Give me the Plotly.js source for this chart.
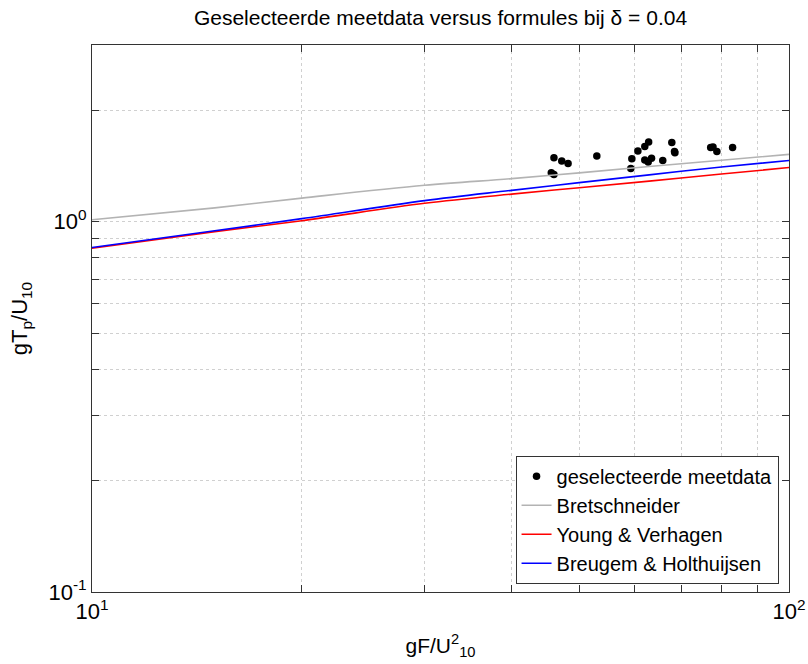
<!DOCTYPE html>
<html>
<head>
<meta charset="utf-8">
<script src="https://cdn.plot.ly/plotly-3.0.1.min.js"></script>
<style>html,body{margin:0;padding:0;background:#fff;}#chart{width:808px;height:664px;}</style>
</head>
<body>
<div id="chart"></div>
<script>
// measured data (gF/U10^2 , gTp/U10)
const measX = [46.0, 45.6, 46.0, 47.2, 48.2, 53.0, 59.5, 59.3, 60.7, 62.1, 62.9, 62.1, 62.8, 63.5, 65.9, 67.9, 68.5, 68.6, 77.2, 77.8, 78.8, 83.0];
const measY = [1.489, 1.356, 1.342, 1.458, 1.435, 1.504, 1.480, 1.391, 1.551, 1.595, 1.641, 1.467, 1.449, 1.483, 1.462, 1.635, 1.546, 1.536, 1.585, 1.590, 1.546, 1.585];

// formula curves
const curveX = [10, 15, 20, 30, 40, 50, 63, 80, 100];
const bretschneiderY = [1.012, 1.09, 1.158, 1.254, 1.307, 1.355, 1.41, 1.465, 1.52];
const youngVerhagenY = [0.848, 0.94, 1.006, 1.121, 1.187, 1.235, 1.287, 1.345, 1.40];
const breugemHolthuijsenY = [0.852, 0.945, 1.019, 1.140, 1.215, 1.275, 1.338, 1.405, 1.463];

const xMajor = [10, 100];
const xMajorText = ['10<sup>1</sup>', '10<sup>2</sup>'];
const xMinor = [20, 30, 40, 50, 60, 70, 80, 90];
const yMajor = [0.1, 1];
const yMajorText = ['10<sup>-1</sup>', '10<sup>0</sup>'];
const yMinor = [0.2, 0.3, 0.4, 0.5, 0.6, 0.7, 0.8, 0.9, 2, 3];

const FONT = '"Liberation Sans", Arial, Helvetica, sans-serif';

const traces = [
  {x: measX, y: measY, mode: 'markers', type: 'scatter', name: 'geselecteerde meetdata',
   marker: {color: '#000', size: 7.5}},
  {x: curveX, y: bretschneiderY, mode: 'lines', type: 'scatter', name: 'Bretschneider',
   line: {color: '#b3b3b3', width: 1.6, shape: 'spline'}},
  {x: curveX, y: youngVerhagenY, mode: 'lines', type: 'scatter', name: 'Young & Verhagen',
   line: {color: '#ff0000', width: 1.6, shape: 'spline'}},
  {x: curveX, y: breugemHolthuijsenY, mode: 'lines', type: 'scatter', name: 'Breugem & Holthuijsen',
   line: {color: '#0000ff', width: 1.6, shape: 'spline'}}
];

const axisCommon = {
  showline: true, mirror: 'ticks', linecolor: '#333', linewidth: 1,
  ticks: 'inside', ticklen: 7, tickcolor: '#333', tickwidth: 1,
  showgrid: true, gridcolor: '#d0d0d0', griddash: 'dot', gridwidth: 1,
  zeroline: false, tickmode: 'array',
  tickfont: {family: FONT, size: 22, color: '#000'}
};

const layout = {
  width: 808, height: 664,
  margin: {l: 92, r: 19, t: 45, b: 72},
  paper_bgcolor: '#fff', plot_bgcolor: '#fff',
  font: {family: FONT, color: '#000'},
  title: {text: 'Geselecteerde meetdata versus formules bij δ = 0.04',
          font: {family: FONT, size: 21, color: '#000'},
          x: 0.5, xref: 'paper', y: 0.973, yref: 'container', yanchor: 'middle'},
  xaxis: Object.assign({}, axisCommon, {
    type: 'log', range: [1, 2],
    tickvals: xMajor, ticktext: xMajorText,
    minor: {tickvals: xMinor, ticks: 'inside', ticklen: 7, tickcolor: '#333',
            showgrid: true, gridcolor: '#d0d0d0', griddash: 'dot', gridwidth: 1},
    title: {text: 'gF/U<sup>2</sup><sub>10</sub>', font: {family: FONT, size: 21, color: '#000'}, standoff: 14}
  }),
  yaxis: Object.assign({}, axisCommon, {
    type: 'log', range: [-1, Math.log10(3)],
    tickvals: yMajor, ticktext: yMajorText,
    minor: {tickvals: yMinor, ticks: 'inside', ticklen: 7, tickcolor: '#333',
            showgrid: true, gridcolor: '#d0d0d0', griddash: 'dot', gridwidth: 1},
    title: {text: 'gT<sub>p</sub>/U<sub>10</sub>', font: {family: FONT, size: 22, color: '#000'}, standoff: 14}
  }),
  legend: {x: 0.985, xanchor: 'right', y: 0.015, yanchor: 'bottom',
           bgcolor: '#fff', bordercolor: '#333', borderwidth: 1,
           font: {family: FONT, size: 20, color: '#000'}, tracegroupgap: 0},
  showlegend: true
};

Plotly.newPlot('chart', traces, layout, {displayModeBar: false, staticPlot: true});
</script>
</body>
</html>
